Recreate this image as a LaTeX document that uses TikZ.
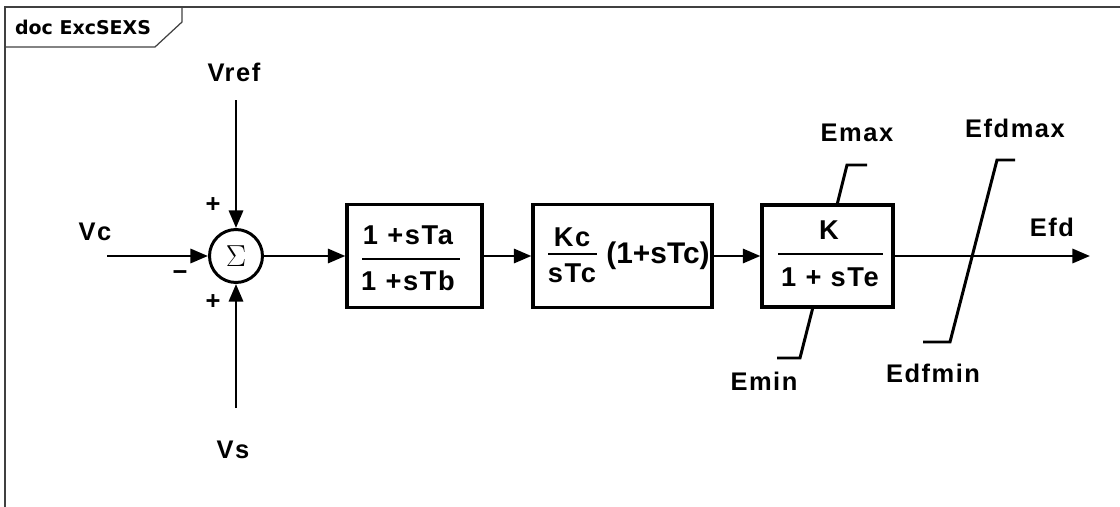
\documentclass[tikz,border=0pt]{standalone}
\usepackage{fontspec}
\setmainfont{Liberation Sans}
\newfontfamily\lblfont[LetterSpace=6]{Liberation Sans}
\newfontfamily\tagfont{DejaVu Sans}
\usetikzlibrary{arrows.meta, positioning}

\begin{document}
\begin{tikzpicture}[x=0.02cm, y=-0.02cm,
  sig/.style={-{Triangle[length=10pt, width=8pt]}, line width=1.7pt},
  blk/.style={draw, line width=1.8pt, minimum width=#1, minimum height=2.06cm, inner sep=0pt},
  lbl/.style={font=\lblfont\bfseries\fontsize{14.5}{16}\selectfont, inner sep=0pt},
  txt/.style={font=\lblfont\bfseries\fontsize{15.5}{17}\selectfont, inner sep=0pt},
  bar/.style={line width=1.7pt},
  lim/.style={line width=1.7pt},
  frame/.style={line width=1pt, black!75},
]
  % Page size (pixels of the reference)
  \useasboundingbox (0,0) rectangle (1120,507);

  % Frame and tag
  \draw[frame] (5,507) -- (5,7) -- (1120,7);
  \draw[frame, line width=0.7pt] (5,47) -- (155,47) -- (182,22) -- (182,7);
  \node[font=\tagfont\bfseries\fontsize{10.8}{12}\selectfont, inner sep=0pt] (tag) at (83,27) {doc ExcSEXS};

  % Summing junction
  \node[draw, circle, line width=1.7pt, minimum size=1.06cm, inner sep=0pt] (sum) at (236,256) {\fontsize{16}{16}\selectfont$\Sigma$};

  % Blocks
  \node[blk=2.7cm]  (b1) at (414.5,256) {};
  \node[blk=3.58cm] (b2) at (622.5,256) {};
  \node[blk=2.62cm, minimum height=2.04cm] (b3) at (827.5,256) {};

  % Block 1: lead-lag
  \node[txt] (b1num) at (408,235) {1 +sTa};
  \draw[bar] (362,259) -- (460,259);
  \node[txt] (b1den) at (408,281) {1 +sTb};

  % Block 2: PI
  \node[txt] (b2num) at (572,237) {Kc};
  \draw[bar] (548,254) -- (597,254);
  \node[txt] (b2den) at (572,273) {sTc};
  \node[txt, font=\bfseries\fontsize{17}{18}\selectfont] (b2lead) at (658,256) {(1+sTc)};

  % Block 3: exciter
  \node[txt] (b3num) at (829,230) {K};
  \draw[bar] (778,254) -- (883,254);
  \node[txt] (b3den) at (830,277) {1 + sTe};

  % Signal end points
  \coordinate (vcin)   at (107,256);
  \coordinate (vrefin) at (236,100);
  \coordinate (vsin)   at (236,408);
  \coordinate (efdout) at (1090,256);

  % Connectors
  \draw[sig] (vcin) -- (sum.west);
  \draw[sig] (vrefin) -- (sum.north);
  \draw[sig] (vsin) -- (sum.south);
  \draw[sig] (sum) -- (b1);
  \draw[sig] (b1) -- (b2);
  \draw[sig] (b2) -- (b3);
  \draw[sig] (b3) -- (efdout);

  % Signs
  \node[lbl] (plustop) at (213,205) {+};
  \node[lbl] (minus)   at (180,276) {−};
  \node[lbl] (plusbot) at (213,302) {+};

  % Input / output labels
  \node[lbl] (vc)   at (95,232)  {Vc};
  \node[lbl] (vref) at (234,72)  {Vref};
  \node[lbl] (vs)   at (233,450) {Vs};
  \node[lbl] (efd)  at (1052,227) {Efd};

  % Block 3 limits
  \draw[lim] (837,205) -- (847,165) -- (867,165);
  \draw[lim] (813,307) -- (800,358) -- (777,358);
  \node[lbl] (emax) at (857,133) {Emax};
  \node[lbl] (emin) at (764,381) {Emin};

  % Output limiter
  \draw[lim] (923,342) -- (950,342) -- (997,160) -- (1015,160);
  \node[lbl] (efdmax) at (1015,128) {Efdmax};
  \node[lbl] (efdmin) at (933,373) {Edfmin};

\end{tikzpicture}
\end{document}
